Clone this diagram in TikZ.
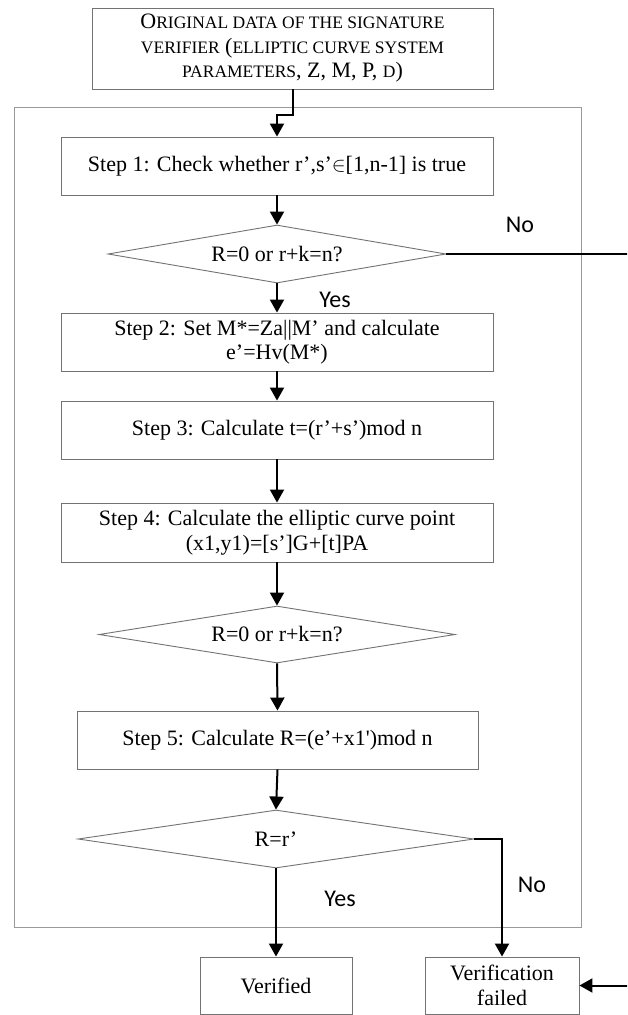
\documentclass[tikz,border=0pt]{standalone}
\usepackage{fontspec}
\setmainfont{Liberation Serif}
\newfontfamily\labfont{Carlito}
\usetikzlibrary{arrows.meta,shapes.geometric}
\newcommand\smc[1]{{\fontsize{17.5}{17.5}\selectfont #1}}
\begin{document}
\begin{tikzpicture}[x=1pt,y=-1pt,
  box/.style={draw=black!55,line width=0.9pt,rectangle,inner sep=0pt,align=center,font=\fontsize{22}{24.5}\selectfont},
  dec/.style={draw=black!55,line width=0.9pt,diamond,aspect=6,inner sep=0pt,font=\fontsize{22}{24}\selectfont},
  conn/.style={line width=2pt,-{Triangle[length=13pt,width=14pt]}},
  lab/.style={font=\labfont\fontsize{24}{26}\selectfont,inner sep=0pt}
]
\useasboundingbox (0,0) rectangle (627,1015);
\clip (0,0) rectangle (627,1015);
\fill[white] (0,0) rectangle (627,1015);

\node[draw=black!40,line width=1pt,rectangle,inner sep=0pt,minimum width=567pt,minimum height=820pt] (outer) at (297.5,517) {};

\node[box,minimum width=401pt,minimum height=81pt,font=\fontsize{22}{24.5}\selectfont] (top) at (292.5,48.5)
 {O\smc{RIGINAL DATA OF THE SIGNATURE}\\ \smc{VERIFIER} (\smc{ELLIPTIC CURVE SYSTEM}\\ \smc{PARAMETERS}, Z, M, P, \smc{D})};

\node[box,minimum width=432pt,minimum height=58pt] (s1) at (277,166) {Step 1: Check whether r’,s’$\in$[1,n-1] is true};
\node[dec,minimum width=338pt,minimum height=58pt] (d1) at (277,254) {R=0 or r+k=n?};
\node[box,minimum width=432pt,minimum height=58pt] (s2) at (277,342) {Step 2: Set M*=Za||M’ and calculate\\ e’=Hv(M*)};
\node[box,minimum width=432pt,minimum height=58pt] (s3) at (277,430) {Step 3: Calculate t=(r’+s’)mod n};
\node[box,minimum width=432pt,minimum height=59pt] (s4) at (277,532.5) {Step 4: Calculate the elliptic curve point\\ (x1,y1)=[s’]G+[t]PA};
\node[dec,minimum width=356pt,minimum height=57pt] (d2) at (277,634.5) {R=0 or r+k=n?};
\node[box,minimum width=401pt,minimum height=58pt] (s5) at (277.5,740) {Step 5: Calculate R=(e’+x1\textquotesingle)mod n};
\node[dec,minimum width=396pt,minimum height=58pt] (d3) at (276,839) {R=r’};
\node[box,minimum width=152pt,minimum height=57pt] (ver) at (276,985.5) {Verified};
\node[box,minimum width=154pt,minimum height=57pt] (fail) at (502,985.5) {Verification\\ failed};

\draw[conn] (top.south) -- ++(0,26) -| (s1.north);
\draw[conn] (s1.south) -- (d1.north);
\draw[conn] (d1.south) -- (s2.north);
\draw[conn] (s2.south) -- (s3.north);
\draw[conn] (s3.south) -- (s4.north);
\draw[conn] (s4.south) -- (d2.north);
\draw[conn] (d2.south) -- (s5.north);
\draw[conn] (s5.south) -- (d3.north);
\draw[conn] (d3.south) -- (ver.north);
\draw[conn] (d3.east) -| (fail.north);
\draw[conn] (d1.east) -- ++(194,0) |- (fail.east);

\node[lab] (no1) at (520,225) {No};
\node[lab] (yes1) at (335,300) {Yes};
\node[lab] (no2) at (532,885) {No};
\node[lab] (yes2) at (340,899) {Yes};
\end{tikzpicture}
\end{document}
